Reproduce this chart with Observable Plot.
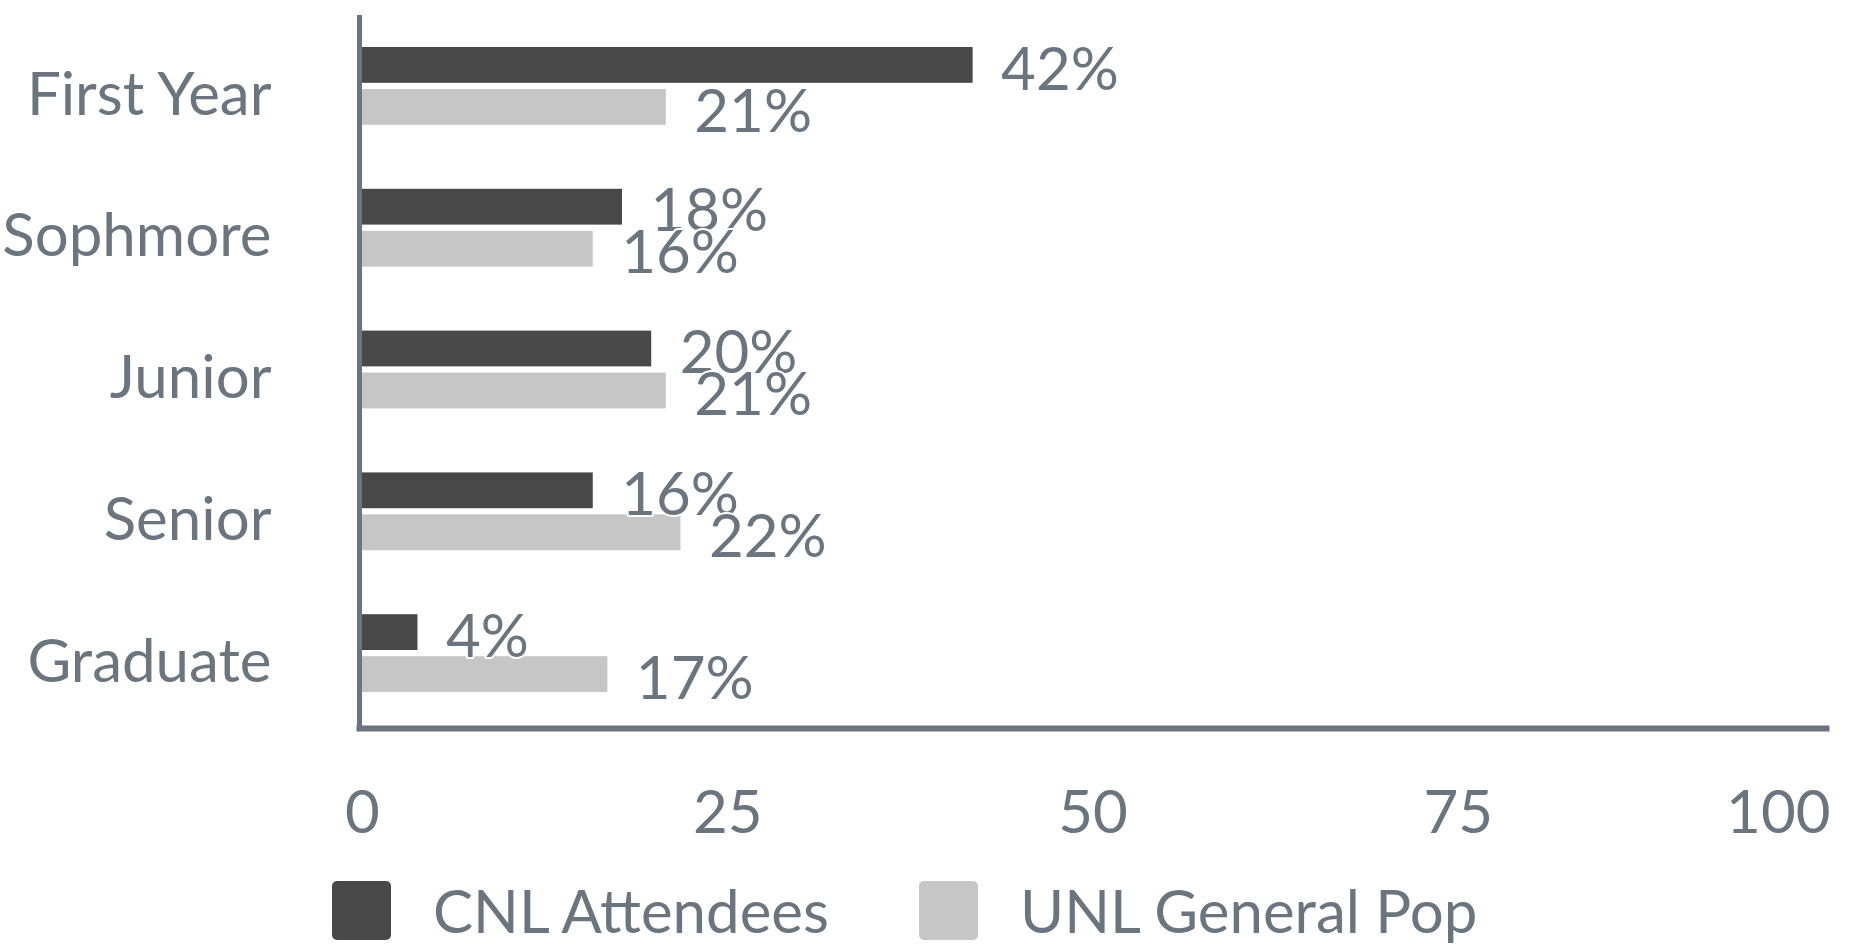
<!DOCTYPE html>
<html>
<head>
<meta charset="utf-8">
<script src="https://cdn.jsdelivr.net/npm/d3@7"></script>
<script src="https://cdn.jsdelivr.net/npm/@observablehq/plot@0.6"></script>
<style>
  html, body { margin: 0; padding: 0; background: #ffffff; }
  #chart { position: relative; width: 1868px; }
  .legend { position: relative; width: 1868px; height: 85px; font-family: Lato, sans-serif; }
  .legend .item { position: absolute; top: 15px; display: flex; align-items: center; height: 59px; }
  .legend .swatch { width: 59px; height: 59px; border-radius: 5px; }
  .legend .label { margin-left: 42px; font-size: 60px; line-height: 59px; color: #6c757d; white-space: nowrap; }
</style>
</head>
<body>
<div id="chart"></div>
<div class="legend" id="legend"></div>
<script>
// ---- data ----
const categories = ["First Year", "Sophmore", "Junior", "Senior", "Graduate"];
const seriesNames = ["CNL Attendees", "UNL General Pop"];
const cnlValues = [42, 18, 20, 16, 4];
const unlValues = [21, 16, 21, 22, 17];
const xTicks = [0, 25, 50, 75, 100];
const seriesColors = ["#484848", "#c6c6c6"];

// ---- table built from the arrays ----
const cnlRows = categories.map((c, i) => ({category: c, series: seriesNames[0], value: cnlValues[i]}));
const unlRows = categories.map((c, i) => ({category: c, series: seriesNames[1], value: unlValues[i]}));

const textColor = "#6c757d";
const W = 1868, H = 866;

const chart = Plot.plot({
  width: W,
  height: H,
  marginLeft: 359,
  marginRight: 42,
  marginTop: 17,
  marginBottom: H - 724,
  style: {fontFamily: "Lato, sans-serif", color: textColor, background: "#ffffff"},
  x: {domain: [0, 100], range: [359, 1820], label: null},
  y: {domain: categories, range: [15, 724], padding: 0, round: false, label: null},
  color: {domain: seriesNames, range: seriesColors},
  marks: [
    Plot.barX(cnlRows, {x: "value", y: "category", fill: "series", insetTop: 32, insetBottom: 74}),
    Plot.barX(unlRows, {x: "value", y: "category", fill: "series", insetTop: 74, insetBottom: 32}),
    Plot.frame({anchor: "left", stroke: textColor, strokeWidth: 5}),
    Plot.frame({anchor: "bottom", stroke: textColor, strokeWidth: 6, dy: 4}),
    Plot.text(cnlRows, {x: "value", y: "category", text: d => d.value + "%", textAnchor: "start", dx: 28, dy: -16,
      fontSize: 60, fill: textColor, stroke: "white", strokeWidth: 4}),
    Plot.text(unlRows, {x: "value", y: "category", text: d => d.value + "%", textAnchor: "start", dx: 28, dy: 26,
      fontSize: 60, fill: textColor, stroke: "white", strokeWidth: 4}),
    Plot.axisY({label: null, tickSize: 0, tickPadding: 88, fontSize: 60, dy: 9, fill: textColor}),
    Plot.axisX({label: null, ticks: xTicks.slice(0, -1), tickSize: 0, tickPadding: 66, fontSize: 60, fill: textColor, dx: 3}),
    Plot.axisX({label: null, ticks: xTicks.slice(-1), tickSize: 0, tickPadding: 66, fontSize: 60, fill: textColor, textAnchor: "end", dx: 10})
  ]
});
document.getElementById("chart").appendChild(chart);

// ---- legend (HTML, below the SVG) ----
const legend = document.getElementById("legend");
const legendLeft = [332, 919];
seriesNames.forEach((name, i) => {
  const item = document.createElement("div");
  item.className = "item";
  item.style.left = legendLeft[i] + "px";
  const sw = document.createElement("div");
  sw.className = "swatch";
  sw.style.background = seriesColors[i];
  const lb = document.createElement("span");
  lb.className = "label";
  lb.textContent = name;
  item.appendChild(sw);
  item.appendChild(lb);
  legend.appendChild(item);
});
</script>
</body>
</html>
